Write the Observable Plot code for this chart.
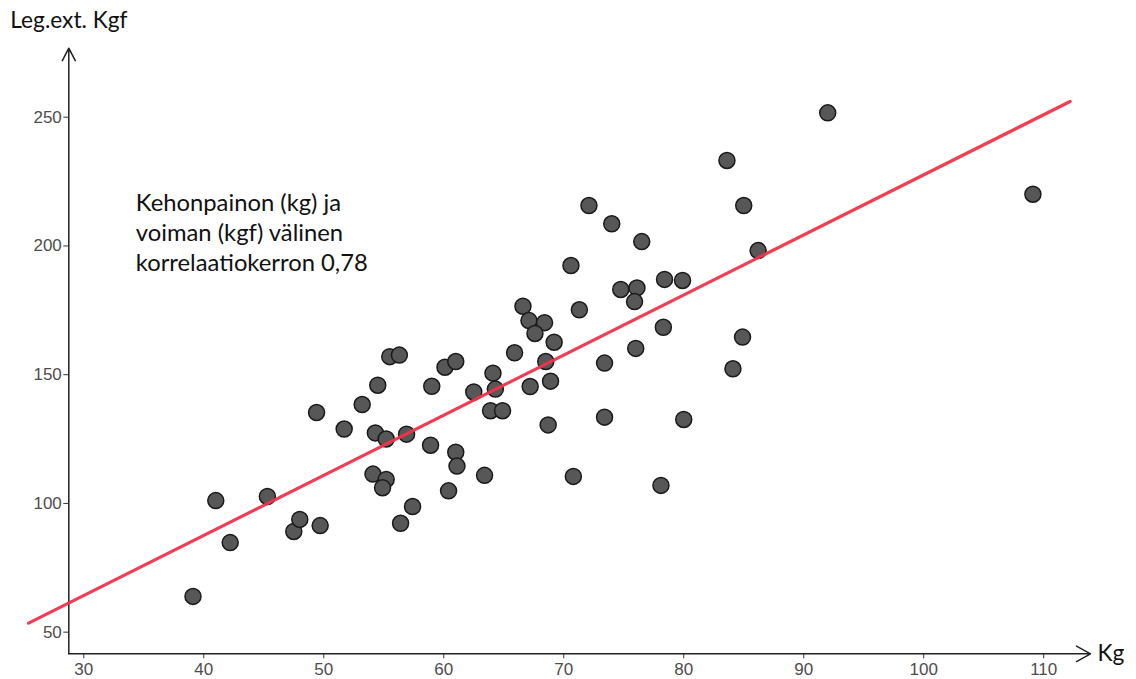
<!DOCTYPE html>
<html><head><meta charset="utf-8">
<script src="https://cdn.jsdelivr.net/npm/d3@7"></script>
<script src="https://cdn.jsdelivr.net/npm/@observablehq/plot@0.6"></script>
<style>html,body{margin:0;padding:0;background:#fff}svg{display:block}</style>
</head><body><div id="chart"></div>
<script>
// Body weight (kg)
const weightKg = [39.1,41.0,42.2,45.3,47.5,48.0,49.4,49.7,51.7,53.2,54.5,55.5,56.3,54.3,55.2,56.9,59.0,58.9,60.1,61.0,54.1,55.2,54.9,57.4,56.4,60.4,61.0,61.1,70.6,66.6,67.1,68.4,67.6,69.2,71.3,74.75,76.1,75.9,78.4,79.9,78.3,76.0,73.4,65.9,68.5,64.1,62.5,64.3,67.2,68.9,63.9,64.9,68.7,73.4,80.0,63.4,70.8,78.1,83.6,72.1,85.0,74.0,76.5,86.2,84.9,84.1,92.0,109.1];
// Leg extension strength (kgf)
const strengthKgf = [63.9,101.1,84.8,102.7,89.1,93.8,135.3,91.4,128.9,138.4,145.9,157.0,157.6,127.4,125.0,126.9,145.5,122.6,152.9,155.1,111.4,109.3,106.1,98.8,92.3,104.9,119.9,114.5,192.4,176.6,171.0,170.2,166.0,162.6,175.2,183.1,183.7,178.4,187.0,186.6,168.4,160.2,154.5,158.5,155.1,150.6,143.3,144.4,145.4,147.5,136.0,136.0,130.5,133.5,132.6,110.9,110.5,107.0,233.2,215.7,215.7,208.6,201.7,198.2,164.6,152.3,251.7,220.1];
// Fitted line end points
const fitLineX = [25.4, 112.2];
const fitLineY = [53.5, 256.1];
const xTicks = [30,40,50,60,70,80,90,100,110];
const yTicks = [50,100,150,200,250];
const xDomain = [28.75, 113.9];
const yDomain = [41.6, 276.8];
const xLabel = "Kg";
const yLabel = "Leg.ext. Kgf";
const note = "Kehonpainon (kg) ja\nvoiman (kgf) välinen\nkorrelaatiokerron 0,78";

const points = weightKg.map((w, i) => ({w, s: strengthKgf[i]}));
const fit = fitLineX.map((x, i) => ({x, y: fitLineY[i]}));

const labelFont = "Lato, 'Open Sans', sans-serif";

const chart = Plot.plot({
  width: 1136,
  height: 679,
  marginLeft: 68.3,
  marginRight: 46,
  marginTop: 47.7,
  marginBottom: 25.7,
  style: {fontFamily: "'Liberation Sans', Arial, sans-serif", background: "#fff", overflow: "visible"},
  x: {domain: xDomain},
  y: {domain: yDomain},
  marks: [
    Plot.axisX({ticks: xTicks, tickSize: 5, tickPadding: 4, fontSize: 17, color: "#4d4d4d", stroke: "#333", label: null}),
    Plot.axisY({ticks: yTicks, tickSize: 5, tickPadding: 2, fontSize: 17, color: "#4d4d4d", stroke: "#333", label: null}),
    Plot.arrow([0], {x1: () => xDomain[0], y1: () => yDomain[0], x2: () => xDomain[0], y2: () => yDomain[1], stroke: "#222", strokeWidth: 1.5, headLength: 14, headAngle: 55, insetEnd: 0}),
    Plot.arrow([0], {x1: () => xDomain[0], y1: () => yDomain[0], x2: () => xDomain[1], y2: () => yDomain[0], stroke: "#222", strokeWidth: 1.5, headLength: 16, headAngle: 58, insetEnd: 0}),
    Plot.dot(points, {x: "w", y: "s", r: 8, fill: "#575757", stroke: "#1a1a1a", strokeWidth: 1.5}),
    Plot.line(fit, {x: "x", y: "y", stroke: "#f2334a", strokeWidth: 3.2, strokeOpacity: 0.95}),
    Plot.text([note], {frameAnchor: "top-left", dx: 67, dy: 183.5, textAnchor: "start", lineAnchor: "middle", lineHeight: 1.26, fontSize: 23.8, fontFamily: labelFont, fill: "#111"}),
    Plot.text([yLabel], {frameAnchor: "top-left", dx: -58.5, dy: -27, textAnchor: "start", lineAnchor: "middle", fontSize: 22.7, fontFamily: labelFont, fill: "#111"}),
    Plot.text([xLabel], {frameAnchor: "bottom-right", dx: 7, dy: 0, textAnchor: "start", lineAnchor: "middle", fontSize: 22.7, fontFamily: labelFont, fill: "#111"})
  ]
});
document.getElementById("chart").append(chart);
</script>
</body></html>
